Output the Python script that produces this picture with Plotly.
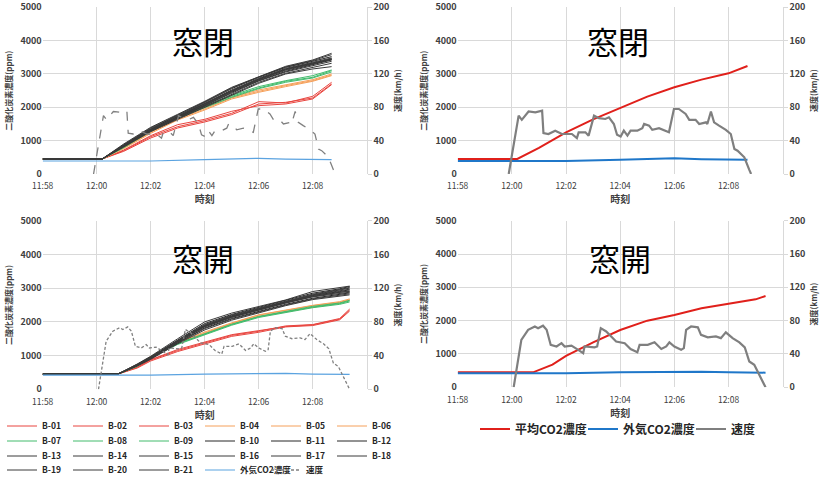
import plotly.graph_objects as go

DAY = "2024-01-01 "

# ---------------- 窓閉 (windows closed) ----------------
closed_time = ["11:58:00", "12:00:12", "12:01:00", "12:02:00", "12:03:00", "12:04:00",
               "12:05:00", "12:06:00", "12:07:00", "12:08:00", "12:08:42"]
closed_B01 = [450, 450, 700, 1120, 1420, 1600, 1820, 2170, 2130, 2330, 2750]
closed_B02 = [450, 450, 680, 1080, 1380, 1560, 1780, 2100, 2150, 2280, 2700]
closed_B03 = [450, 450, 720, 1150, 1480, 1640, 1880, 2050, 2100, 2250, 2680]
closed_B04 = [450, 450, 780, 1250, 1650, 1950, 2280, 2480, 2650, 2800, 2970]
closed_B05 = [450, 450, 760, 1220, 1620, 1920, 2250, 2450, 2620, 2780, 2950]
closed_B06 = [450, 450, 790, 1260, 1680, 1980, 2300, 2520, 2680, 2830, 3000]
closed_B07 = [450, 450, 800, 1300, 1700, 2030, 2330, 2580, 2780, 2900, 3100]
closed_B08 = [450, 450, 790, 1280, 1680, 2000, 2300, 2560, 2750, 2880, 3060]
closed_B09 = [450, 450, 810, 1310, 1720, 2050, 2360, 2620, 2800, 2950, 3120]
closed_B10 = [450, 450, 850, 1330, 1720, 2100, 2500, 2850, 3150, 3330, 3450]
closed_B11 = [450, 450, 830, 1300, 1680, 2050, 2450, 2800, 3080, 3280, 3420]
closed_B12 = [450, 450, 870, 1360, 1750, 2150, 2560, 2900, 3200, 3380, 3520]
closed_B13 = [450, 450, 900, 1400, 1790, 2180, 2600, 2920, 3230, 3420, 3620]
closed_B14 = [450, 450, 820, 1290, 1660, 2020, 2400, 2750, 3020, 3200, 3320]
closed_B15 = [450, 450, 810, 1270, 1640, 2000, 2380, 2720, 3000, 3150, 3220]
closed_B16 = [450, 450, 860, 1340, 1730, 2120, 2520, 2870, 3170, 3350, 3480]
closed_B17 = [450, 450, 880, 1380, 1770, 2160, 2580, 2910, 3210, 3400, 3580]
closed_B18 = [450, 450, 840, 1310, 1700, 2070, 2470, 2820, 3110, 3300, 3430]
closed_B19 = [450, 450, 850, 1320, 1710, 2090, 2490, 2840, 3140, 3320, 3460]
closed_B20 = [450, 450, 830, 1300, 1690, 2060, 2440, 2790, 3060, 3250, 3380]
closed_B21 = [450, 450, 845, 1315, 1705, 2080, 2480, 2830, 3130, 3310, 3440]
closed_avg = [450, 450, 780, 1250, 1640, 1980, 2320, 2600, 2830, 3020, 3240]

closed_out_time = ["11:58:00", "12:02:00", "12:04:00", "12:06:00", "12:07:00", "12:08:00", "12:08:42"]
closed_out = [390, 390, 430, 470, 445, 430, 430]

closed_speed_time = ["11:59:53", "12:00:15", "12:00:22", "12:00:37", "12:00:52", "12:01:07", "12:01:10",
                     "12:01:21", "12:01:36", "12:01:51", "12:02:13", "12:02:24", "12:02:28", "12:02:43",
                     "12:02:50", "12:03:02", "12:03:13", "12:03:27", "12:03:35", "12:03:46", "12:03:53",
                     "12:04:01", "12:04:08", "12:04:16", "12:04:23", "12:04:38", "12:04:49", "12:04:53",
                     "12:05:04", "12:05:11", "12:05:26", "12:05:41", "12:05:48", "12:05:59", "12:06:10",
                     "12:06:25", "12:06:33", "12:06:47", "12:06:55", "12:07:10", "12:07:13", "12:07:21",
                     "12:07:28", "12:07:39", "12:07:54", "12:08:05", "12:08:13", "12:08:20", "12:08:35",
                     "12:08:46", "12:08:50"]
closed_speed = [0, 70, 65, 75, 74, 76, 49,
                48, 52, 48, 48, 43, 50, 50,
                46, 70, 67, 66, 68, 60, 47,
                45, 52, 46, 52, 52, 55, 60,
                58, 53, 55, 52, 50, 78, 78,
                72, 65, 65, 60, 62, 60, 75,
                62, 58, 53, 48, 30, 28, 20,
                5, 0]

# ---------------- 窓開 (windows open) ----------------
open_time = ["11:58:00", "12:00:47", "12:01:30", "12:02:00", "12:03:00", "12:04:00",
             "12:05:00", "12:06:00", "12:07:00", "12:08:00", "12:09:00", "12:09:22"]
open_B01 = [450, 450, 650, 870, 1150, 1370, 1600, 1720, 1880, 1920, 2100, 2380]
open_B02 = [450, 450, 630, 840, 1120, 1340, 1570, 1690, 1850, 1890, 2060, 2320]
open_B03 = [450, 450, 660, 880, 1180, 1390, 1620, 1740, 1860, 1910, 2080, 2350]
open_B04 = [450, 450, 700, 960, 1380, 1680, 1960, 2200, 2330, 2480, 2580, 2660]
open_B05 = [450, 450, 690, 950, 1360, 1660, 1940, 2170, 2300, 2450, 2560, 2640]
open_B06 = [450, 450, 710, 970, 1390, 1700, 1970, 2210, 2350, 2490, 2600, 2680]
open_B07 = [450, 450, 690, 950, 1350, 1640, 1920, 2150, 2300, 2440, 2540, 2620]
open_B08 = [450, 450, 680, 940, 1330, 1620, 1900, 2130, 2280, 2420, 2520, 2590]
open_B09 = [450, 450, 700, 960, 1360, 1650, 1930, 2160, 2310, 2460, 2560, 2640]
open_B10 = [450, 450, 720, 930, 1420, 1880, 2150, 2380, 2580, 2780, 2900, 2950]
open_B11 = [450, 450, 700, 910, 1380, 1820, 2100, 2320, 2520, 2700, 2820, 2860]
open_B12 = [450, 450, 740, 960, 1460, 1950, 2220, 2430, 2620, 2850, 2980, 3050]
open_B13 = [450, 450, 750, 980, 1500, 2000, 2260, 2460, 2650, 2900, 3020, 3060]
open_B14 = [450, 450, 690, 890, 1350, 1760, 2050, 2260, 2480, 2660, 2760, 2800]
open_B15 = [450, 450, 710, 920, 1400, 1850, 2130, 2350, 2560, 2750, 2870, 2920]
open_B16 = [450, 450, 730, 950, 1440, 1900, 2180, 2400, 2600, 2800, 2940, 3000]
open_B17 = [450, 450, 700, 900, 1370, 1800, 2080, 2300, 2500, 2680, 2790, 2830]
open_B18 = [450, 450, 720, 940, 1430, 1870, 2160, 2370, 2570, 2760, 2880, 2900]
open_B19 = [450, 450, 735, 955, 1450, 1920, 2200, 2410, 2610, 2820, 2960, 3020]
open_B20 = [450, 450, 715, 925, 1410, 1860, 2140, 2360, 2560, 2740, 2850, 2880]
open_B21 = [450, 450, 725, 945, 1425, 1890, 2170, 2390, 2590, 2790, 2920, 2970]
open_avg = [450, 450, 680, 940, 1350, 1720, 2000, 2170, 2370, 2500, 2640, 2740]

open_out_time = ["11:58:00", "12:02:00", "12:04:00", "12:06:00", "12:07:00", "12:08:00", "12:09:22"]
open_out = [420, 420, 450, 470, 470, 450, 440]

open_speed_time = ["12:00:04", "12:00:21", "12:00:36", "12:00:51", "12:00:58", "12:01:09", "12:01:17",
                   "12:01:26", "12:01:39", "12:01:50", "12:01:57", "12:02:12", "12:02:27", "12:02:38",
                   "12:02:41", "12:03:03", "12:03:09", "12:03:17", "12:03:29", "12:03:40", "12:03:51",
                   "12:04:10", "12:04:23", "12:04:38", "12:04:43", "12:05:01", "12:05:16", "12:05:31",
                   "12:05:42", "12:05:49", "12:06:00", "12:06:15", "12:06:21", "12:06:26", "12:06:37",
                   "12:06:52", "12:06:59", "12:07:14", "12:07:32", "12:07:43", "12:07:54", "12:08:09",
                   "12:08:24", "12:08:36", "12:08:46", "12:08:57", "12:09:08", "12:09:15", "12:09:22"]
open_speed = [0, 57, 69, 73, 71, 74, 69,
              51, 49, 53, 49, 50, 45, 41,
              49, 48, 49, 71, 67, 61, 55,
              53, 46, 42, 51, 51, 54, 46,
              49, 54, 49, 45, 47, 69, 73,
              72, 63, 60, 61, 59, 66, 59,
              54, 48, 31, 27, 15, 7, 0]

sensor_names = ["B-01", "B-02", "B-03", "B-04", "B-05", "B-06", "B-07", "B-08", "B-09", "B-10",
                "B-11", "B-12", "B-13", "B-14", "B-15", "B-16", "B-17", "B-18", "B-19", "B-20", "B-21"]
tick_times = ["11:58:00", "12:00:00", "12:02:00", "12:04:00", "12:06:00", "12:08:00", "12:10:00"]
tick_labels = ["11:58", "12:00", "12:02", "12:04", "12:06", "12:08", ""]

closed_series = [closed_B01, closed_B02, closed_B03, closed_B04, closed_B05, closed_B06, closed_B07,
                 closed_B08, closed_B09, closed_B10, closed_B11, closed_B12, closed_B13, closed_B14,
                 closed_B15, closed_B16, closed_B17, closed_B18, closed_B19, closed_B20, closed_B21]
open_series = [open_B01, open_B02, open_B03, open_B04, open_B05, open_B06, open_B07,
               open_B08, open_B09, open_B10, open_B11, open_B12, open_B13, open_B14,
               open_B15, open_B16, open_B17, open_B18, open_B19, open_B20, open_B21]


def T(lst):
    return [DAY + s for s in lst]


def sensor_color(i):
    if i < 3:
        return "#e8453f"
    if i < 6:
        return "#f5a05a"
    if i < 9:
        return "#42bb6c"
    if i < 12:
        return "#262626"
    return "#3a3a3a"


FONT = "Noto Sans CJK JP"
fig = go.Figure()

# left panels: individual sensors
for (times, series, otime, oval, stime, sval, xa, ya, ya2, dash, show) in [
    (closed_time, closed_series, closed_out_time, closed_out, closed_speed_time, closed_speed,
     "x", "y", "y5", "dash", False),
    (open_time, open_series, open_out_time, open_out, open_speed_time, open_speed,
     "x3", "y3", "y7", "3px,2px", True),
]:
    for i, (name, vals) in enumerate(zip(sensor_names, series)):
        fig.add_trace(go.Scatter(
            x=T(times), y=vals, name=name, mode="lines",
            line=dict(color=sensor_color(i), width=1),
            xaxis=xa, yaxis=ya, showlegend=show,
            legend=["legend", "legend2", "legend3", "legend4"][i // 6]))
    fig.add_trace(go.Scatter(
        x=T(otime), y=oval, name="外気CO2濃度", mode="lines",
        line=dict(color="#5ba3e0", width=1.2), xaxis=xa, yaxis=ya,
        showlegend=show, legend="legend4"))
    fig.add_trace(go.Scatter(
        x=T(stime), y=sval, name="速度", mode="lines",
        line=dict(color="#808080", width=1.3, dash=dash), xaxis=xa, yaxis=ya2,
        showlegend=show, legend="legend4"))

# right panels: averages
for (times, avg, otime, oval, stime, sval, xa, ya, ya2, show) in [
    (closed_time, closed_avg, closed_out_time, closed_out, closed_speed_time, closed_speed,
     "x2", "y2", "y6", False),
    (open_time, open_avg, open_out_time, open_out, open_speed_time, open_speed,
     "x4", "y4", "y8", True),
]:
    fig.add_trace(go.Scatter(
        x=T(times), y=avg, name="平均CO2濃度", mode="lines",
        line=dict(color="#e0201b", width=2), xaxis=xa, yaxis=ya,
        showlegend=show, legend="legend5"))
    fig.add_trace(go.Scatter(
        x=T(otime), y=oval, name="外気CO2濃度", mode="lines",
        line=dict(color="#1f77c9", width=2), xaxis=xa, yaxis=ya,
        showlegend=show, legend="legend5"))
    fig.add_trace(go.Scatter(
        x=T(stime), y=sval, name="速度", mode="lines",
        line=dict(color="#7f7f7f", width=2.2), xaxis=xa, yaxis=ya2,
        showlegend=show, legend="legend5"))

W, H = 825, 480
def px_x(a, b):
    return [a / W, b / W]
def px_y(top, bottom):
    return [1 - bottom / H, 1 - top / H]

doms = [
    (px_x(42.7, 366.7), px_y(7.3, 174)),
    (px_x(457.7, 782.7), px_y(7.3, 174)),
    (px_x(42.7, 366.7), px_y(220.7, 389.3)),
    (px_x(457.7, 782.7), px_y(220.7, 387.3)),
]

tickfont = dict(family=FONT, size=9, color="#404040", weight="bold")
grid = "#d9d9d9"
layout = dict(
    width=W, height=H, margin=dict(l=0, r=0, t=0, b=0, autoexpand=False),
    paper_bgcolor="white", plot_bgcolor="white",
    font=dict(family=FONT, color="#404040"),
)
for k, (dx, dy) in enumerate(doms, start=1):
    sx = "" if k == 1 else str(k)
    layout["xaxis" + sx] = dict(
        domain=dx, anchor="y" + sx, type="date", automargin=False,
        range=[DAY + "11:58:00", DAY + "12:10:00"],
        tickvals=T(tick_times), ticktext=tick_labels,
        showgrid=True, gridcolor=grid, gridwidth=1, zeroline=False, showline=False,
        ticks="outside", ticklen=4, tickcolor="rgba(0,0,0,0)",
        tickfont=dict(family=FONT, size=8.5, color="#404040"),
        title=dict(text="時刻", font=dict(family=FONT, size=10, color="#404040", weight="bold"),
                   standoff=4),
    )
    layout["yaxis" + sx] = dict(
        domain=dy, anchor="x" + sx, range=[0, 5000], dtick=1000, automargin=False,
        showgrid=True, gridcolor=grid, gridwidth=1, zeroline=False, showline=False,
        ticks="", tickfont=tickfont,
        title=dict(text="二酸化炭素濃度(ppm)",
                   font=dict(family=FONT, size=8, color="#404040", weight="bold"), standoff=6),
    )
    layout["yaxis" + str(k + 4)] = dict(
        overlaying="y" + sx, anchor="x" + sx, side="right", range=[0, 200], dtick=40,
        automargin=False,
        showgrid=False, zeroline=False, showline=True, linecolor=grid,
        ticks="outside", ticklen=4, tickcolor=grid, tickfont=tickfont,
        title=dict(text="速度(km/h)",
                   font=dict(family=FONT, size=8, color="#404040", weight="bold"), standoff=6),
    )

leg_common = dict(orientation="h", xanchor="left", yanchor="middle", bgcolor="rgba(0,0,0,0)",
                  itemwidth=30, entrywidthmode="pixels", entrywidth=21,
                  font=dict(family=FONT, size=8.5, color="#262626", weight="bold"),
                  traceorder="normal")
for name, ycen in [("legend", 426), ("legend2", 441), ("legend3", 456), ("legend4", 470)]:
    layout[name] = dict(leg_common, x=2 / W, y=1 - ycen / H)
layout["legend5"] = dict(orientation="h", xanchor="left", yanchor="middle", bgcolor="rgba(0,0,0,0)",
                         itemwidth=30, entrywidthmode="pixels", entrywidth=63,
                         font=dict(family=FONT, size=12, color="#262626", weight="bold"),
                         x=475 / W, y=1 - 429 / H)

titles = [("窓閉", 203, 40), ("窓閉", 618, 40), ("窓開", 203, 257), ("窓開", 620, 257)]
layout["annotations"] = [
    dict(text=t, x=x / W, y=1 - y / H, xref="paper", yref="paper", showarrow=False,
         font=dict(family=FONT, size=31, color="#000000"), xanchor="center", yanchor="middle")
    for t, x, y in titles
]

fig.update_layout(**layout)
fig.write_html("out.html", config={"displayModeBar": False},
               post_script="document.body.style.margin='0';document.body.style.padding='0';"
                           "document.documentElement.style.overflow='hidden';")
